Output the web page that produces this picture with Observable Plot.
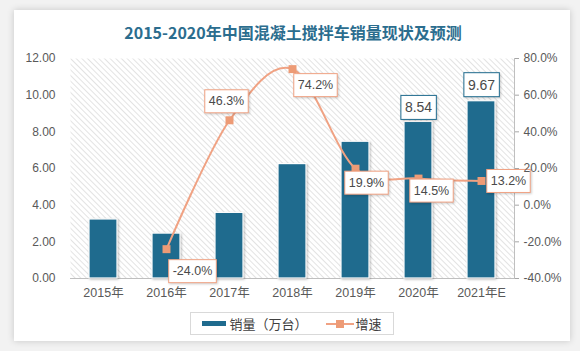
<!DOCTYPE html>
<html>
<head>
<meta charset="utf-8">
<script src="https://cdn.jsdelivr.net/npm/d3@7"></script>
<script src="https://cdn.jsdelivr.net/npm/@observablehq/plot@0.6"></script>
<style>
  body { margin: 0; background: #f2f2f2; }
  #wrap { position: relative; width: 580px; height: 351px; overflow: hidden; }
  #card { position: absolute; left: 14px; top: 10px; width: 556px; height: 331px; background: #fff; box-shadow: 0 0 7px rgba(0,0,0,0.18); }
  #title { position: absolute; left: 0; width: 586px; top: 21px; text-align: center; font: bold 16px "Noto Sans CJK SC", sans-serif; color: #2b6d8e; line-height: 22px; }
  #chart { position: absolute; left: 0; top: 0; }
  #legend { position: absolute; left: 190px; top: 312px; width: 204px; height: 23px; border: 1px solid #d9d9d9; box-sizing: border-box;
            display: flex; align-items: center; justify-content: center; font: 13px "Noto Sans CJK SC", sans-serif; color: #404040; background: #fff; }
  .sw-bar { display: inline-block; width: 24px; height: 5px; background: #1f6b8e; margin-right: 3px; }
  .sw-line { display: inline-block; position: relative; width: 28px; height: 8px; margin-left: 18px; margin-right: 2px; }
  .sw-line::before { content: ""; position: absolute; left: 0; right: 0; top: 3px; height: 2px; background: #f0a283; }
  .sw-line::after { content: ""; position: absolute; left: 10px; top: 0; width: 8px; height: 8px; background: #ed9b76; }
</style>
</head>
<body>
<svg width="0" height="0" style="position:absolute">
  <defs>
    <pattern id="hatch" patternUnits="userSpaceOnUse" width="4" height="4" patternTransform="rotate(-45)">
      <rect width="4" height="4" fill="#ffffff"></rect>
      <line x1="0" y1="0" x2="0" y2="4" stroke="#d0d0d0" stroke-width="1.2"></line>
    </pattern>
  </defs>
</svg>
<div id="wrap">
  <div id="card"></div>
  <div id="title">2015-2020年中国混凝土搅拌车销量现状及预测</div>
  <div id="chart"></div>
  <div id="legend"><span class="sw-bar"></span>销量（万台）<span class="sw-line"></span>增速</div>
</div>
<script>
// ---- data ----
const years = ["2015年", "2016年", "2017年", "2018年", "2019年", "2020年", "2021年E"];
const sales = [3.22, 2.45, 3.58, 6.24, 7.46, 8.54, 9.67];          // 销量（万台）
const growth = [null, -24.0, 46.3, 74.2, 19.9, 14.5, 13.2];        // 增速 (%)
const salesTicks = [0, 2, 4, 6, 8, 10, 12];
const growthTicks = [-40, -20, 0, 20, 40, 60, 80];
const barLabelYears = ["2020年", "2021年E"];

// label placement (pixel offsets) for the growth labels and bar labels
const growthLabelOffsets = [[26, 22], [-3, -19], [23, 16], [11, 14], [13, 12], [27, 0]];
const barLabelOffsets = [[0, -14], [0, -16]];

// growth axis (-40%..80%) mapped onto the sales axis (0..12)
const toLeft = g => (g + 40) / 10;
const fromLeft = v => v * 10 - 40;
const fmtGrowth = g => g.toFixed(1) + "%";
const fmtSales = v => v.toFixed(2);

const rows = years.map((year, i) => ({year, sales: sales[i], growth: growth[i]}));
const lineRows = rows.filter(d => d.growth != null);
const barLabelRows = rows.filter(d => barLabelYears.includes(d.year));

const fontAxis = "'Liberation Sans', 'Noto Sans CJK SC', sans-serif";

const growthLabelMarks = lineRows.map((d, i) => Plot.text([d], {
  x: "year", y: r => toLeft(r.growth), text: r => fmtGrowth(r.growth),
  dx: growthLabelOffsets[i][0], dy: growthLabelOffsets[i][1],
  fill: "#4a4a4a", fontSize: 12.5, fontFamily: fontAxis
}));
const barLabelMarks = barLabelRows.map((d, i) => Plot.text([d], {
  x: "year", y: "sales", text: r => fmtSales(r.sales),
  dx: barLabelOffsets[i][0], dy: barLabelOffsets[i][1],
  fill: "#4a4a4a", fontSize: 14, fontFamily: fontAxis
}));

const chart = Plot.plot({
  width: 580, height: 351,
  marginLeft: 70, marginRight: 66, marginTop: 58, marginBottom: 73,
  style: {background: "transparent", fontFamily: fontAxis, color: "#595959", overflow: "visible"},
  x: {domain: years, paddingInner: 0.56, paddingOuter: 0.28, label: null},
  y: {domain: [0, 12], label: null},
  marks: [
    Plot.frame({fill: "url(#hatch)", stroke: null}),
    Plot.frame({anchor: "right", stroke: "#bfbfbf"}),
    Plot.ruleY([0], {stroke: "#bfbfbf"}),
    Plot.barY(rows, {x: "year", y: "sales", fill: "#1f6b8e", stroke: "#ffffff", strokeWidth: 1.2}),
    Plot.line(lineRows, {x: "year", y: d => toLeft(d.growth), stroke: "#f0a283", strokeWidth: 2, curve: "cardinal"}),
    Plot.dot(lineRows, {x: "year", y: d => toLeft(d.growth), symbol: "square", r: 4.5, fill: "#ed9b76", stroke: null}),
    ...growthLabelMarks,
    ...barLabelMarks,
    Plot.axisY({ticks: salesTicks, tickFormat: d => d.toFixed(2), tickSize: 0, tickPadding: 15, fontSize: 12}),
    Plot.axisY({anchor: "right", ticks: growthTicks.map(toLeft), tickFormat: d => fromLeft(d).toFixed(1) + "%",
                tickSize: 4, tickPadding: 5, fontSize: 12, stroke: "#a6a6a6", fill: "#595959"}),
    Plot.axisX({tickSize: 0, tickPadding: 10, fontSize: 12.5})
  ]
});
document.getElementById("chart").appendChild(chart);

// bar shadow
chart.querySelectorAll('g[aria-label="bar"] rect').forEach(r => r.setAttribute("style", "filter: drop-shadow(1px 1px 1px rgba(0,0,0,0.25))"));

// draw boxes behind the data labels
const growthLabelSet = new Set(lineRows.map(d => fmtGrowth(d.growth)));
const barLabelSet = new Set(barLabelRows.map(d => fmtSales(d.sales)));
function addBox(t, strokeColor, padX, padY) {
  const bb = t.getBBox();
  const r = document.createElementNS("http://www.w3.org/2000/svg", "rect");
  r.setAttribute("x", bb.x - padX);
  r.setAttribute("y", bb.y - padY);
  r.setAttribute("width", bb.width + 2 * padX);
  r.setAttribute("height", bb.height + 2 * padY);
  r.setAttribute("fill", "#ffffff");
  r.setAttribute("stroke", strokeColor);
  r.setAttribute("stroke-width", "1");
  r.setAttribute("style", "filter: drop-shadow(1px 1px 1px rgba(0,0,0,0.2))");
  if (t.getAttribute("transform")) r.setAttribute("transform", t.getAttribute("transform"));
  t.parentNode.insertBefore(r, t);
}
chart.querySelectorAll('g[aria-label="text"] text').forEach(t => {
  const s = t.textContent;
  if (growthLabelSet.has(s)) addBox(t, "#f0a283", 4, 4.5);
  else if (barLabelSet.has(s)) addBox(t, "#1f6b8e", 4, 4);
});
</script>
</body>
</html>
